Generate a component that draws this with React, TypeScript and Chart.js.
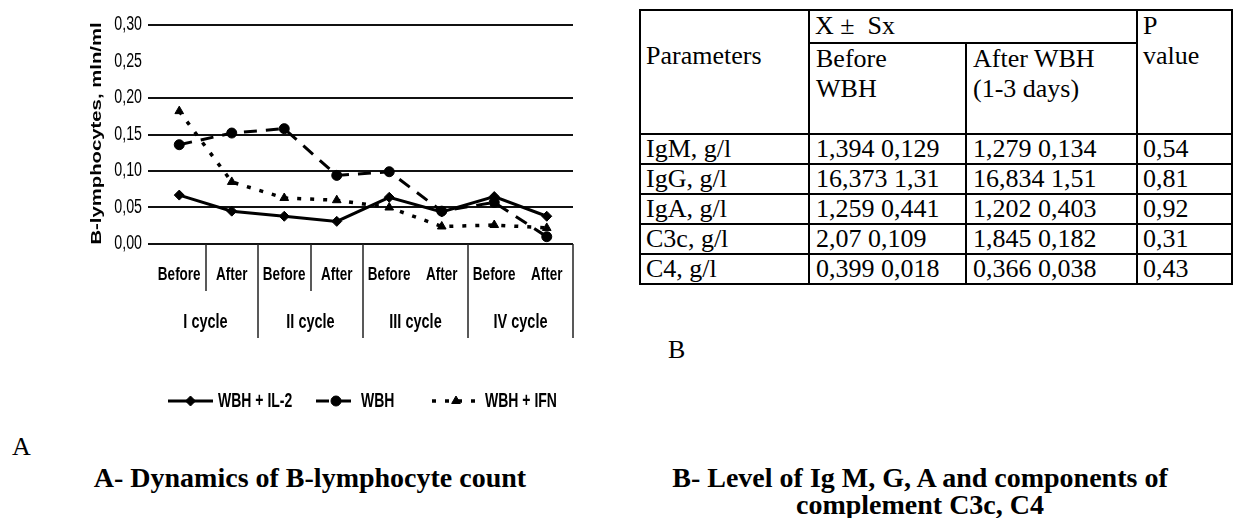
import React, { useEffect, useRef } from 'react';
import { Chart, registerables } from 'chart.js';
import { drawPoint } from 'chart.js/helpers';

Chart.register(...registerables);

// Panel A: B-lymphocyte count over four WBH cycles
const CATEGORIES = ['Before', 'After', 'Before', 'After', 'Before', 'After', 'Before', 'After'];
const CYCLES = ['I cycle', 'II cycle', 'III cycle', 'IV cycle'];
const CYCLE_SPLIT = [true, true, false, false];
const SERIES_NAMES = ['WBH + IL-2', 'WBH', 'WBH + IFN'];
const IL2_VALUES = [0.067, 0.045, 0.038, 0.031, 0.064, 0.044, 0.065, 0.038];
const WBH_VALUES = [0.136, 0.152, 0.158, 0.094, 0.099, 0.045, 0.057, 0.01];
const IFN_VALUES = [0.182, 0.085, 0.063, 0.06, 0.05, 0.024, 0.026, 0.022];
const Y_TICKS = [0, 0.05, 0.1, 0.15, 0.2, 0.25, 0.3];
const Y_GRID = [0, 0.05, 0.1, 0.15, 0.2, 0.3];
const Y_TITLE = 'B-lymphocytes, mln/ml';

// Panel B: immunoglobulins and complement
const TABLE_PARAMETERS = ['IgM, g/l', 'IgG, g/l', 'IgA, g/l', 'C3c, g/l', 'C4, g/l'];
const TABLE_BEFORE = ['1,394 0,129', '16,373 1,31', '1,259 0,441', '2,07 0,109', '0,399 0,018'];
const TABLE_AFTER = ['1,279 0,134', '16,834 1,51', '1,202 0,403', '1,845 0,182', '0,366 0,038'];
const TABLE_P = ['0,54', '0,81', '0,92', '0,31', '0,43'];

const SANS = '"Liberation Sans", Arial, sans-serif';
const LEGEND_X = [168, 316, 432];
const LEGEND_LEN = [45, 40, 48];

function drawText(
  ctx: CanvasRenderingContext2D,
  text: string,
  x: number,
  y: number,
  font: string,
  align: CanvasTextAlign,
  sx: number,
  sy: number,
  rotation = 0
) {
  ctx.save();
  ctx.translate(x, y);
  if (rotation) ctx.rotate(rotation);
  ctx.scale(sx, sy);
  ctx.font = font;
  ctx.textAlign = align;
  ctx.textBaseline = 'middle';
  ctx.fillStyle = '#000';
  ctx.fillText(text, 0, 0);
  ctx.restore();
}

function segment(ctx: CanvasRenderingContext2D, x1: number, y1: number, x2: number, y2: number) {
  ctx.beginPath();
  ctx.moveTo(x1, y1);
  ctx.lineTo(x2, y2);
  ctx.stroke();
}

const figurePlugin = {
  id: 'figureDecor',
  beforeDatasetsDraw(chart: any) {
    const { ctx, chartArea: area } = chart;
    const y = chart.scales.y;
    ctx.save();
    ctx.strokeStyle = '#111';
    ctx.lineWidth = 2;
    Y_GRID.forEach((v) => {
      const py = Math.round(y.getPixelForValue(v));
      segment(ctx, area.left - 5, py, area.right, py);
    });
    ctx.restore();
  },
  afterDraw(chart: any) {
    const { ctx, chartArea: area } = chart;
    const x = chart.scales.x;
    const y = chart.scales.y;
    const half = (x.getPixelForValue(1) - x.getPixelForValue(0)) / 2;

    // y ticks and title
    Y_TICKS.forEach((v) => {
      drawText(ctx, v.toFixed(2).replace('.', ','), area.left - 11, y.getPixelForValue(v), `15px ${SANS}`, 'right', 0.95, 1.3);
    });
    drawText(ctx, Y_TITLE, 97, (area.top + area.bottom) / 2 - 1, `bold 14px ${SANS}`, 'center', 1.45, 1, -Math.PI / 2);

    // category labels
    CATEGORIES.forEach((c, i) => {
      drawText(ctx, c, x.getPixelForValue(i), area.bottom + 31, `bold 13.5px ${SANS}`, 'center', 1, 1.4);
    });

    // cycle separators and names
    ctx.save();
    ctx.strokeStyle = '#222';
    ctx.lineWidth = 1.5;
    CYCLES.forEach((name, k) => {
      const i0 = 2 * k;
      const mid = Math.round(x.getPixelForValue(i0) + half);
      const end = Math.round(x.getPixelForValue(i0 + 1) + half);
      if (CYCLE_SPLIT[k]) segment(ctx, mid, area.bottom, mid, area.bottom + 47);
      segment(ctx, end, area.bottom, end, area.bottom + 94);
      const cx = (x.getPixelForValue(i0) + x.getPixelForValue(i0 + 1)) / 2;
      drawText(ctx, name, cx, area.bottom + 79, `bold 14.5px ${SANS}`, 'center', 1, 1.35);
    });
    ctx.restore();

    // legend
    const ly = 401;
    chart.data.datasets.forEach((ds: any, i: number) => {
      const x0 = LEGEND_X[i];
      const len = LEGEND_LEN[i];
      ctx.save();
      ctx.strokeStyle = ds.borderColor;
      ctx.lineWidth = ds.borderWidth;
      ctx.setLineDash(ds.borderDash || []);
      segment(ctx, x0, ly, x0 + len, ly);
      ctx.restore();
      ctx.save();
      ctx.fillStyle = '#000';
      ctx.strokeStyle = '#000';
      drawPoint(ctx, { pointStyle: ds.pointStyle, radius: ds.pointRadius, borderWidth: 1, rotation: 0 }, x0 + len / 2, ly);
      ctx.restore();
      drawText(ctx, ds.label, x0 + len + 5, ly, `bold 14px ${SANS}`, 'left', 1, 1.45);
    });
  },
};

const cell: React.CSSProperties = {
  border: '2px solid #000',
  padding: '0 0 0 5px',
  verticalAlign: 'top',
  whiteSpace: 'nowrap',
  textAlign: 'left',
};

export default function App() {
  const canvasRef = useRef<HTMLCanvasElement>(null);

  useEffect(() => {
    const seriesValues = [IL2_VALUES, WBH_VALUES, IFN_VALUES];
    const styles = [
      { pointStyle: 'rectRot', borderDash: [], borderWidth: 3 },
      { pointStyle: 'circle', borderDash: [13, 9], borderWidth: 3 },
      { pointStyle: 'triangle', borderDash: [4, 9], borderWidth: 3.5 },
    ];
    const chart = new Chart(canvasRef.current as HTMLCanvasElement, {
      type: 'line',
      data: {
        labels: CATEGORIES,
        datasets: SERIES_NAMES.map((name, i) => ({
          label: name,
          data: seriesValues[i],
          borderColor: '#000',
          backgroundColor: '#000',
          borderWidth: styles[i].borderWidth,
          borderDash: styles[i].borderDash,
          borderCapStyle: 'butt',
          pointStyle: styles[i].pointStyle,
          pointRadius: 5,
          pointBackgroundColor: '#000',
          pointBorderColor: '#000',
          pointBorderWidth: 1,
          tension: 0,
          fill: false,
          clip: false,
        })) as any,
      },
      options: {
        animation: false,
        responsive: false,
        maintainAspectRatio: false,
        layout: { padding: { left: 153, right: 27, top: 25, bottom: 176 } },
        plugins: { legend: { display: false }, tooltip: { enabled: false } },
        scales: {
          x: { type: 'category', display: false, offset: true },
          y: { min: 0, max: 0.3, display: false },
        },
      },
      plugins: [figurePlugin],
    });
    return () => chart.destroy();
  }, []);

  return (
    <div
      style={{
        position: 'absolute',
        left: 0,
        top: 0,
        width: 1233,
        height: 518,
        overflow: 'hidden',
        background: '#fff',
        color: '#000',
        fontFamily: '"Liberation Serif", "Times New Roman", serif',
      }}
    >
      <canvas ref={canvasRef} width={600} height={420} style={{ position: 'absolute', left: 0, top: 0, width: 600, height: 420 }} />

      <table
        style={{
          position: 'absolute',
          left: 639,
          top: 9,
          width: 592,
          borderCollapse: 'collapse',
          tableLayout: 'fixed',
          fontSize: 26,
          lineHeight: '30px',
        }}
      >
        <colgroup>
          <col style={{ width: 169 }} />
          <col style={{ width: 157 }} />
          <col style={{ width: 171 }} />
          <col style={{ width: 95 }} />
        </colgroup>
        <tbody>
          <tr>
            <td rowSpan={2} style={{ ...cell, paddingTop: 30 }}>Parameters</td>
            <td colSpan={2} style={{ ...cell, height: 31 }}>X ±&nbsp; Sx</td>
            <td rowSpan={2} style={cell}>P<br />value</td>
          </tr>
          <tr>
            <td style={{ ...cell, height: 89, paddingLeft: 6 }}>Before<br />WBH</td>
            <td style={{ ...cell, paddingLeft: 6 }}>After WBH<br />(1-3 days)</td>
          </tr>
          {TABLE_PARAMETERS.map((p, i) => (
            <tr key={p} style={{ lineHeight: '28px' }}>
              <td style={{ ...cell, height: 28 }}>{p}</td>
              <td style={{ ...cell, paddingLeft: 6 }}>{TABLE_BEFORE[i]}</td>
              <td style={{ ...cell, paddingLeft: 6 }}>{TABLE_AFTER[i]}</td>
              <td style={cell}>{TABLE_P[i]}</td>
            </tr>
          ))}
        </tbody>
      </table>

      <div style={{ position: 'absolute', left: 12, top: 432, fontSize: 26, lineHeight: '30px' }}>A</div>
      <div style={{ position: 'absolute', left: 668, top: 335, fontSize: 26, lineHeight: '30px' }}>B</div>

      <div
        style={{
          position: 'absolute',
          left: 60,
          top: 464,
          width: 500,
          textAlign: 'center',
          fontSize: 28,
          fontWeight: 'bold',
          lineHeight: '27px',
        }}
      >
        A- Dynamics of B-lymphocyte count
      </div>
      <div
        style={{
          position: 'absolute',
          left: 645,
          top: 464,
          width: 550,
          textAlign: 'center',
          fontSize: 28,
          fontWeight: 'bold',
          lineHeight: '27px',
        }}
      >
        B- Level of Ig M, G, A and components of
        <br />
        complement C3c, C4
      </div>
    </div>
  );
}
